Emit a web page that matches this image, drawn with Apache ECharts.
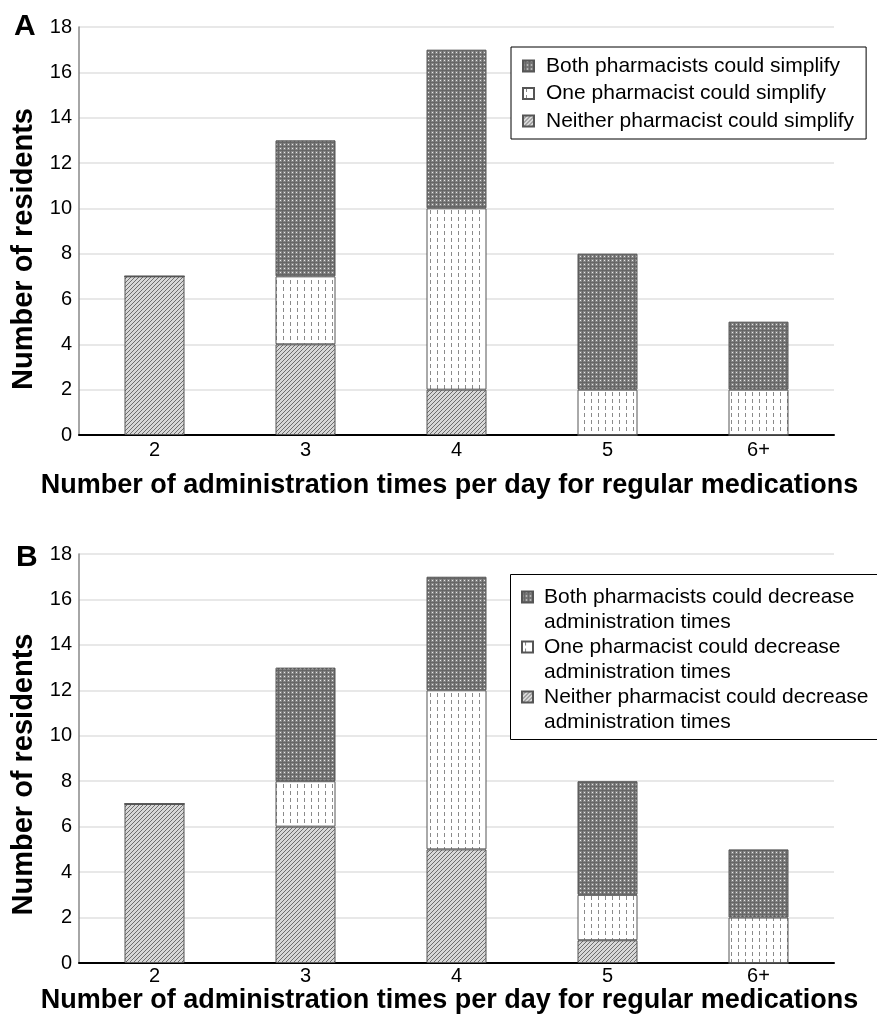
<!DOCTYPE html>
<html><head><meta charset="utf-8">
<script src="https://cdn.jsdelivr.net/npm/echarts@6/dist/echarts.min.js"></script>
<style>html,body{margin:0;padding:0;background:#fff}#c{width:877px;height:1023px}</style>
</head><body><div id="c"></div>
<script>
var categories = ['2', '3', '4', '5', '6+'];
var yTicks = [0, 2, 4, 6, 8, 10, 12, 14, 16, 18];

var namesA = ['Both pharmacists could simplify', 'One pharmacist could simplify', 'Neither pharmacist could simplify'];
var neitherA = [7, 4, 2, 0, 0];
var oneA = [0, 3, 8, 2, 2];
var bothA = [0, 6, 7, 6, 3];

var namesB = ['Both pharmacists could decrease administration times', 'One pharmacist could decrease administration times', 'Neither pharmacist could decrease administration times'];
var neitherB = [7, 6, 5, 1, 0];
var oneB = [0, 2, 7, 2, 2];
var bothB = [0, 5, 5, 5, 3];

function tile(w, h, draw) {
  var c = document.createElement('canvas');
  c.width = w; c.height = h;
  var g = c.getContext('2d');
  draw(g);
  return { image: c, repeat: 'repeat' };
}
var patBoth = tile(4, 4, function (g) {
  g.fillStyle = '#858585'; g.fillRect(0, 0, 4, 4);
  g.fillStyle = '#666666'; g.fillRect(0, 2, 4, 1); g.fillRect(2, 0, 1, 4);
  g.fillStyle = '#e8e8e8'; g.fillRect(0, 0, 1, 1);
});
var patOne = tile(7, 7, function (g) {
  g.fillStyle = '#ffffff'; g.fillRect(0, 0, 7, 7);
  g.fillStyle = '#8a8a8a'; g.fillRect(3, 0, 1, 4);
});
var patNeither = tile(4, 4, function (g) {
  g.fillStyle = '#d8d8d8'; g.fillRect(0, 0, 4, 4);
  g.fillStyle = '#6e6e6e';
  for (var i = 0; i < 4; i++) { g.fillRect(3 - i, i, 1, 1); }
});
var pats = [patBoth, patOne, patNeither];

var FONT = 'Liberation Sans';
var chart = echarts.init(document.getElementById('c'), null, { renderer: 'canvas' });

function xAxis(idx, labelMargin, nameGap) {
  return {
    gridIndex: idx, type: 'category', data: categories,
    axisLine: { lineStyle: { color: '#000', width: 2 } },
    axisTick: { show: false },
    axisLabel: { color: '#000', fontSize: 20, fontFamily: FONT, margin: labelMargin },
    name: 'Number of administration times per day for regular medications',
    nameLocation: 'middle', nameGap: nameGap,
    nameTextStyle: { color: '#000', fontSize: 27, fontWeight: 'bold', fontFamily: FONT, padding: [0, 14, 0, 0] }
  };
}
function yAxis(idx, shift) {
  return {
    gridIndex: idx, type: 'value', min: yTicks[0], max: yTicks[yTicks.length - 1], interval: 2,
    axisLine: { show: true, lineStyle: { color: '#888', width: 1.5 } },
    axisTick: { show: false },
    splitLine: { lineStyle: { color: '#e0e0e0', width: 1.5 } },
    axisLabel: { color: '#000', fontSize: 20, fontFamily: FONT, margin: 7 },
    name: 'Number of residents', nameLocation: 'middle', nameGap: 31, nameRotate: 90,
    nameTextStyle: { color: '#000', fontSize: 29, fontWeight: 'bold', fontFamily: FONT, padding: [0, shift, 0, 0] }
  };
}
function bar(name, data, pat, idx, stack) {
  return {
    name: name, type: 'bar', stack: stack, xAxisIndex: idx, yAxisIndex: idx,
    data: data, barWidth: 60,
    itemStyle: { color: pat, borderColor: '#555', borderWidth: 1 },
    emphasis: { disabled: true }
  };
}
var wrapB = {};
wrapB[namesB[0]] = ' \nBoth pharmacists could decrease\nadministration times';
wrapB[namesB[1]] = ' \nOne pharmacist could decrease\nadministration times';
wrapB[namesB[2]] = ' \nNeither pharmacist could decrease\nadministration times';

chart.setOption({
  animation: false,
  grid: [
    { left: 79, right: 43, top: 27, height: 408 },
    { left: 79, right: 43, top: 554, height: 409 }
  ],
  xAxis: [xAxis(0, 5, 37), xAxis(1, 3, 23)],
  yAxis: [yAxis(0, 36), yAxis(1, 32)],
  legend: [
    {
      data: namesA, orient: 'vertical', left: 511, top: 47,
      backgroundColor: '#fff', borderColor: '#000', borderWidth: 1,
      padding: [8, 12, 7, 11], itemGap: 5.5, itemWidth: 11, itemHeight: 11,
      icon: 'rect', selectedMode: false,
      textStyle: { color: '#000', fontSize: 21, lineHeight: 22, fontFamily: FONT, padding: [0, 0, 0, 7] }
    },
    {
      data: namesB, orient: 'vertical', left: 521, top: 559.5,
      padding: 0, itemGap: -25, itemWidth: 11, itemHeight: 11,
      icon: 'rect', selectedMode: false,
      textStyle: { color: '#000', fontSize: 21, fontFamily: FONT, lineHeight: 25, padding: [0, 0, 0, 6] },
      formatter: function (n) { return wrapB[n]; }
    }
  ],
  graphic: [
    { type: 'rect', z: 3, shape: { x: 510.5, y: 574.5, width: 380, height: 165 }, style: { fill: '#fff', stroke: '#000', lineWidth: 1 } },
    { type: 'text', left: 14, top: 12, style: { text: 'A', fontSize: 30, fontWeight: 'bold', fontFamily: FONT, fill: '#000' } },
    { type: 'text', left: 16, top: 543, style: { text: 'B', fontSize: 30, fontWeight: 'bold', fontFamily: FONT, fill: '#000' } }
  ],
  series: [
    bar(namesA[2], neitherA, pats[2], 0, 'a'),
    bar(namesA[1], oneA, pats[1], 0, 'a'),
    bar(namesA[0], bothA, pats[0], 0, 'a'),
    bar(namesB[2], neitherB, pats[2], 1, 'b'),
    bar(namesB[1], oneB, pats[1], 1, 'b'),
    bar(namesB[0], bothB, pats[0], 1, 'b')
  ]
});
</script></body></html>
